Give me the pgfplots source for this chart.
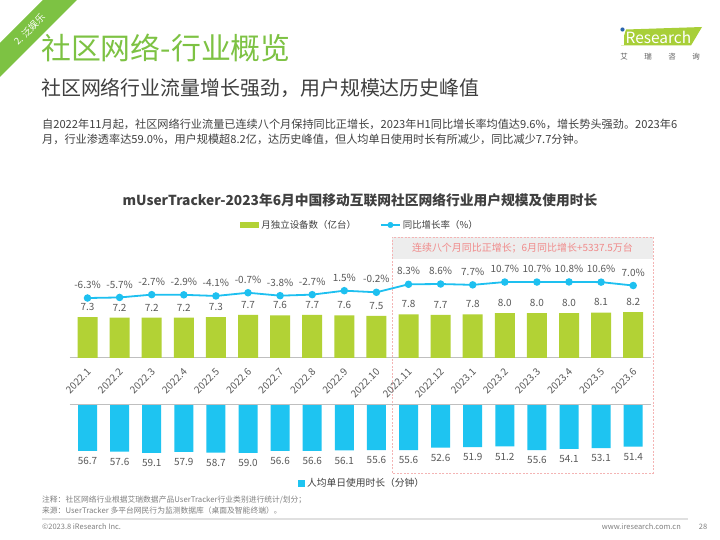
\documentclass[border=0pt]{standalone}
\usepackage{pgfplots}
\pgfplotsset{compat=1.18}
\usepackage{fontspec}
\setmainfont{Noto Sans CJK SC}

\definecolor{titlegreen}{HTML}{7DC243}
\definecolor{bargreen}{HTML}{B2D235}
\definecolor{barcyan}{HTML}{1EC4F1}
\definecolor{linecyan}{HTML}{1EC0F0}
\definecolor{textgray}{HTML}{404040}
\definecolor{labelgray}{HTML}{595959}
\definecolor{notegray}{HTML}{808080}
\definecolor{axisgray}{HTML}{BFBFBF}
\definecolor{boxpink}{HTML}{F4B4B4}
\definecolor{headgray}{HTML}{EDEDED}
\definecolor{headpink}{HTML}{F08A8A}
\definecolor{logogreen}{HTML}{A8CF38}
\definecolor{logoblue}{HTML}{2A64AE}

\newcommand{\fsz}[1]{\fontsize{#1}{#1}\selectfont}

\begin{document}
\begin{tikzpicture}
\useasboundingbox (0,0) rectangle (720bp,540bp);
\fill[white] (0,0) rectangle (720bp,540bp);

\begin{scope}[x=1bp,y=1bp]
  % corner tag
  \fill[titlegreen] (43,540) -- (77,540) -- (0,463) -- (0,497) -- cycle;
  \node[rotate=45, text=white, font=\fsz{9.5}] at (29.5,510.5) {2. 泛娱乐};

  % headings
  \node[anchor=west, inner sep=0, text=titlegreen, font=\fsz{30}] at (41,492) {社区网络-行业概览};
  \node[anchor=west, inner sep=0, text=textgray, font=\fsz{20}] at (41,452) {社区网络行业流量增长强劲，用户规模达历史峰值};
  \node[anchor=west, inner sep=0, text=textgray, font=\fsz{11.2}] at (42,416)
    {自2022年11月起，社区网络行业流量已连续八个月保持同比正增长，2023年H1同比增长率均值达9.6\%，增长势头强劲。2023年6};
  \node[anchor=west, inner sep=0, text=textgray, font=\fsz{11.2}] at (42,401)
    {月，行业渗透率达59.0\%，用户规模超8.2亿，达历史峰值，但人均单日使用时长有所减少，同比减少7.7分钟。};

  % logo
  \fill[logogreen] (621,494.5) -- (691,494.5) -- (702,513) -- (626,510.5) -- cycle;
  \fill[white] (621.2,494.5) rectangle (623.8,505.5);
  \fill[logoblue] (622.5,510.5) circle (2.1);
  \node[anchor=west, inner sep=0, text=white, font=\fsz{15.5}] at (625.5,502.5) {Research};
  \foreach \x/\c in {624/艾,648/瑞,672/咨,696/询}
    \node[text=labelgray, font=\fsz{7.5}] at (\x,483) {\c};

  % chart title
  \node[text=textgray, font=\bfseries\fsz{13.8}] at (360,340)
    {mUserTracker-2023年6月中国移动互联网社区网络行业用户规模及使用时长};

  % highlight box
  \fill[headgray] (392,281) rectangle (653,303);
  \draw[boxpink, dash pattern=on 2bp off 1.5bp, line width=0.7bp] (392,67) rectangle (653,303);
  \node[text=headpink, font=\fsz{10}] at (522.5,292) {连续八个月同比正增长；6月同比增长+5337.5万台};

  % footer
  \node[anchor=west, inner sep=0, text=notegray, font=\fsz{7.8}] at (42,40)
    {注释：社区网络行业根据艾瑞数据产品UserTracker行业类别进行统计/划分；};
  \node[anchor=west, inner sep=0, text=notegray, font=\fsz{7.8}] at (42,29)
    {来源：UserTracker 多平台网民行为监测数据库（桌面及智能终端）。};
  \draw[black!12, line width=1.5bp] (42,21) -- (688,21);
  \node[anchor=west, inner sep=0, text=notegray, font=\fsz{7.5}] at (42,13) {©2023.8 iResearch Inc.};
  \node[anchor=east, inner sep=0, text=notegray, font=\fsz{7.5}] at (681,13) {www.iresearch.com.cn};
  \node[text=notegray, font=\fsz{7.5}] at (703,13) {28};
\end{scope}

% monthly devices (bars)
\begin{axis}[
  at={(87.5bp,182bp)}, anchor=origin,
  x=32.1bp, y=5.6bp,
  xmin=-0.55, xmax=17.55, ymin=0, ymax=9,
  axis x line*=bottom, axis y line=none,
  x axis line style={-, draw=axisgray, line width=1bp},
  xtick={0,...,17},
  xticklabels={2022.1,2022.2,2022.3,2022.4,2022.5,2022.6,2022.7,2022.8,2022.9,2022.10,2022.11,2022.12,2023.1,2023.2,2023.3,2023.4,2023.5,2023.6},
  major tick length=0pt,
  x tick label style={xshift=4bp, yshift=-10bp, rotate=45, anchor=east, font=\fsz{10}, text=labelgray},
  ytick=\empty,
  clip=false,
  ybar, bar width=20bp,
  /pgf/number format/fixed, /pgf/number format/fixed zerofill,
  /pgf/number format/precision=1, /pgf/number format/assume math mode=true,
  legend columns=2,
  legend style={at={(0.4995,2.639)}, anchor=center, draw=none, fill=none,
    font=\fsz{9.5}, text=textgray, inner sep=0pt,
    /tikz/every even column/.append style={column sep=22bp}},
]
\addplot[fill=bargreen, draw=none,
  nodes near coords,
  every node near coord/.append style={anchor=south, yshift=3bp, font=\fsz{10}, text=labelgray},
  legend image code/.code={\fill[bargreen] (0bp,-3bp) rectangle (19bp,3bp);}]
  coordinates {(0,7.3) (1,7.2) (2,7.2) (3,7.2) (4,7.3) (5,7.7) (6,7.6) (7,7.7) (8,7.6) (9,7.5)
               (10,7.8) (11,7.7) (12,7.8) (13,8.0) (14,8.0) (15,8.0) (16,8.1) (17,8.2)};
\addlegendentry{月独立设备数（亿台）}
\addlegendimage{legend image code/.code={\draw[linecyan, line width=1.8bp] (0bp,0bp) -- (19bp,0bp);
  \fill[linecyan] (9.5bp,0bp) circle (2.8bp);}}
\addlegendentry{同比增长率（\%）}
\end{axis}

% year-on-year growth (line)
\begin{axis}[
  at={(87.5bp,247.9bp)}, anchor=origin,
  x=32.1bp, y=0.94bp,
  xmin=-0.55, xmax=17.55, ymin=-8, ymax=12,
  hide axis, clip=false,
  /pgf/number format/fixed, /pgf/number format/fixed zerofill,
  /pgf/number format/precision=1, /pgf/number format/assume math mode=true,
]
\addplot[linecyan, line width=1.8bp, mark=*, mark size=2.8bp,
  mark options={fill=linecyan, draw=linecyan},
  nodes near coords={\pgfmathprintnumber{\pgfplotspointmeta}\%},
  every node near coord/.append style={anchor=south, yshift=5bp, font=\fsz{10}, text=labelgray}]
  coordinates {(0,-6.3) (1,-5.7) (2,-2.7) (3,-2.9) (4,-4.1) (5,-0.7) (6,-3.8) (7,-2.7) (8,1.5) (9,-0.2)
               (10,8.3) (11,8.6) (12,7.7) (13,10.7) (14,10.7) (15,10.8) (16,10.6) (17,7.0)};
\end{axis}

% daily minutes per user (bars hanging down)
\begin{axis}[
  at={(87.5bp,135bp)}, anchor=origin,
  x=32.1bp, y=0.81bp, y dir=reverse,
  xmin=-0.55, xmax=17.55, ymin=0, ymax=62,
  hide axis, clip=false,
  ybar, bar width=19bp,
  /pgf/number format/fixed, /pgf/number format/fixed zerofill,
  /pgf/number format/precision=1, /pgf/number format/assume math mode=true,
  legend style={at={(0.503,-0.554)}, anchor=center, draw=none, fill=none,
    font=\fsz{9.8}, text=textgray, inner sep=0pt},
]
\addplot[fill=barcyan, draw=none,
  nodes near coords,
  every node near coord/.append style={anchor=north, yshift=-3bp, font=\fsz{10}, text=labelgray},
  legend image code/.code={\fill[barcyan] (0bp,-3.5bp) rectangle (7bp,3.5bp);}]
  coordinates {(0,56.7) (1,57.6) (2,59.1) (3,57.9) (4,58.7) (5,59.0) (6,56.6) (7,56.6) (8,56.1) (9,55.6)
               (10,55.6) (11,52.6) (12,51.9) (13,51.2) (14,55.6) (15,54.1) (16,53.1) (17,51.4)};
\addlegendentry{人均单日使用时长（分钟）}
\draw[axisgray, line width=1bp] (axis cs:-0.55,0) -- (axis cs:17.55,0);
\end{axis}
\end{tikzpicture}
\end{document}
